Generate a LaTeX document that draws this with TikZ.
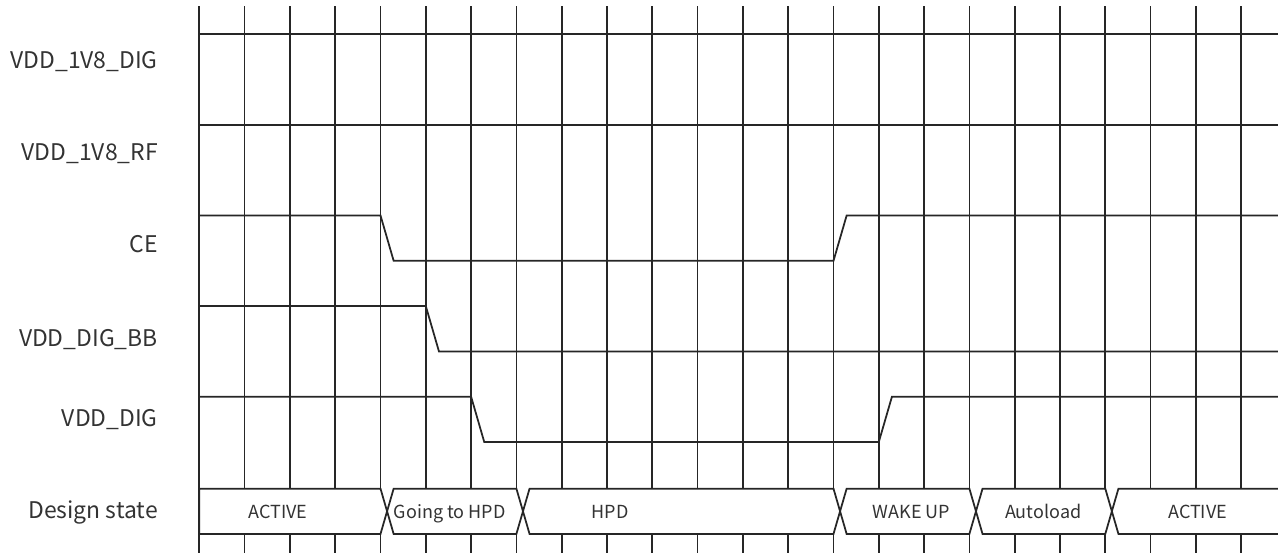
\documentclass[tikz,border=0pt]{standalone}
\usepackage{fontspec}
\setmainfont{Noto Sans CJK JP}
\usepackage{tikz}
\usetikzlibrary{calc}

\begin{document}
\begin{tikzpicture}[
    gridLine/.style={draw, line width=1.1pt, black!85},
    wave/.style={draw, line width=1.1pt, black!85, line join=miter},
    busSeg/.style={draw=black!85, fill=white, line width=1.1pt},
    sigLabel/.style={anchor=base east, inner sep=0pt, font=\fontsize{14.4}{16}\selectfont, text=black!80},
    busLabel/.style={anchor=base, inner sep=0pt, font=\fontsize{11.3}{13}\selectfont, text=black!80}
]
    \useasboundingbox (-4.40,0) rectangle (23.945,12.207);

    % Grid
    \foreach \k in {0,...,23}
        \draw[gridLine] (\k,0) -- (\k,12.08);

    % Signals
    \draw[wave] (0,11.45) -- (23.81,11.45);
    \draw[wave] (0,9.45) -- (23.81,9.45);
    \draw[wave] (0,7.45) -- (4,7.45) -- (4.29,6.45) -- (14,6.45) -- (14.29,7.45) -- (23.81,7.45);
    \draw[wave] (0,5.45) -- (5,5.45) -- (5.29,4.45) -- (23.81,4.45);
    \draw[wave] (0,3.45) -- (6,3.45) -- (6.29,2.45) -- (15,2.45) -- (15.29,3.45) -- (23.81,3.45);

    % Design state bus
    \filldraw[busSeg] (0,1.42) -- (4,1.42) -- (4.145,0.92) -- (4,0.42) -- (0,0.42) -- cycle;
    \foreach \a/\b in {4/7, 7/14, 14/17, 17/20}
        \filldraw[busSeg] (\a+0.145,0.92) -- (\a+0.29,1.42) -- (\b,1.42) -- (\b+0.145,0.92) -- (\b,0.42) -- (\a+0.29,0.42) -- cycle;
    \fill[white] (20.145,0.92) -- (20.29,1.42) -- (23.81,1.42) -- (23.81,0.42) -- (20.29,0.42) -- cycle;
    \draw[wave] (23.81,1.42) -- (20.29,1.42) -- (20.145,0.92) -- (20.29,0.42) -- (23.81,0.42);

    % Labels
    \node[sigLabel] (lblDig18) at (-0.91,10.70) {VDD\_1V8\_DIG};
    \node[sigLabel] (lblRf18) at (-0.91,8.66) {VDD\_1V8\_RF};
    \node[sigLabel] (lblCe) at (-0.91,6.63) {CE};
    \node[sigLabel] (lblDigBb) at (-0.91,4.55) {VDD\_DIG\_BB};
    \node[sigLabel] (lblDig) at (-0.91,2.79) {VDD\_DIG};
    \node[sigLabel] (lblState) at (-0.91,0.77) {Design state};

    \node[busLabel] (stActive) at (1.74,0.77) {ACTIVE};
    \node[busLabel] (stGoing) at (5.53,0.77) {Going to HPD};
    \node[busLabel] (stHpd) at (9.07,0.77) {HPD};
    \node[busLabel] (stWake) at (15.72,0.77) {WAKE UP};
    \node[busLabel] (stAuto) at (18.63,0.77) {Autoload};
    \node[busLabel] (stActiveB) at (22.04,0.77) {ACTIVE};

\end{tikzpicture}
\end{document}
